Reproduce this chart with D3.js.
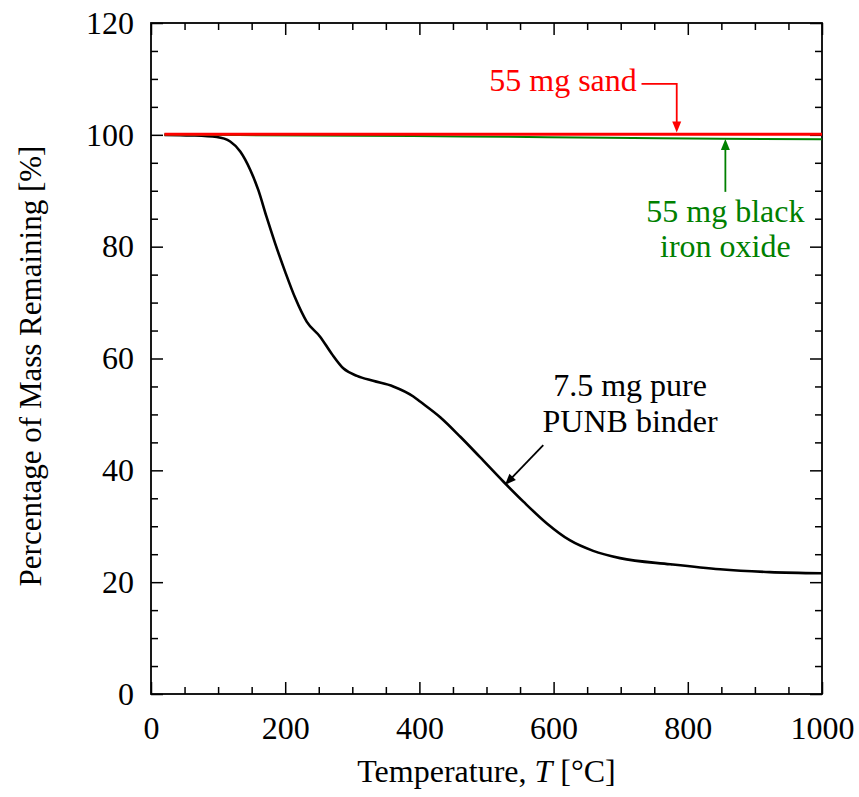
<!DOCTYPE html>
<html>
<head>
<meta charset="utf-8">
<script src="https://cdn.jsdelivr.net/npm/d3@7"></script>
<style>
  html, body { margin: 0; padding: 0; background: #fff; }
  svg { display: block; }
  text { font-family: "Liberation Serif", "Times New Roman", Times, serif; }
</style>
</head>
<body>
<svg id="chart" width="859" height="797"></svg>
<script>
// ---- Data ----
const punbTemp = [20, 60, 98, 118, 133, 148, 160, 172, 185, 200, 215, 232, 252, 269, 287, 307, 331, 361, 391, 401, 431, 461, 490, 525, 555, 590, 624, 659, 699, 774, 848, 922, 1000];
const punbMass = [100, 99.9, 99.6, 98.8, 97.0, 93.7, 90.1, 85.4, 80.6, 75.5, 70.8, 66.6, 63.9, 60.9, 58.2, 56.9, 56.0, 55.0, 53.2, 52.3, 49.5, 46.0, 42.4, 38.0, 34.4, 30.5, 27.5, 25.6, 24.3, 23.2, 22.3, 21.8, 21.6];

const sandTemp = [20, 1000];
const sandMass = [100.1, 100.1];

const ironTemp = [20, 390, 530, 680, 850, 1000];
const ironMass = [100, 99.8, 99.65, 99.5, 99.3, 99.2];

const xTicksMajor = [0, 200, 400, 600, 800, 1000];
const yTicksMajor = [0, 20, 40, 60, 80, 100, 120];

// ---- Layout ----
const margin = { left: 151, top: 23, right: 859 - 822, bottom: 797 - 694 };
const width = 859, height = 797;
const svg = d3.select("#chart");

const x = d3.scaleLinear().domain([0, 1000]).range([margin.left, width - margin.right]);
const y = d3.scaleLinear().domain([0, 120]).range([height - margin.bottom, margin.top]);

const fs = 32;

const g = svg.append("g");

const minorX = d3.range(0, 1001, 50).filter(v => v % 200 !== 0);
const minorY = d3.range(0, 121, 5).filter(v => v % 20 !== 0);
const majLen = 12, minLen = 7;

function addAxis(axisGen, transform) {
  const a = g.append("g").attr("transform", transform).call(axisGen);
  a.select(".domain").remove();
  a.selectAll(".tick line").attr("stroke", "#000").attr("stroke-width", 1.5);
  return a;
}

// Bottom axis (ticks inward)
const bottomMaj = addAxis(d3.axisBottom(x).tickValues(xTicksMajor).tickSize(-majLen).tickPadding(22).tickFormat(d3.format("d")), `translate(0,${y(0)})`);
bottomMaj.selectAll("text").attr("font-size", fs).attr("fill", "#000")
  .attr("font-family", '"Liberation Serif", "Times New Roman", serif');
addAxis(d3.axisBottom(x).tickValues(minorX).tickSize(-minLen).tickFormat(""), `translate(0,${y(0)})`);
// Top axis
addAxis(d3.axisTop(x).tickValues(xTicksMajor).tickSize(-majLen).tickFormat(""), `translate(0,${y(120)})`);
addAxis(d3.axisTop(x).tickValues(minorX).tickSize(-minLen).tickFormat(""), `translate(0,${y(120)})`);
// Left axis
const leftMaj = addAxis(d3.axisLeft(y).tickValues(yTicksMajor).tickSize(-majLen).tickPadding(17).tickFormat(d3.format("d")), `translate(${x(0)},0)`);
leftMaj.selectAll("text").attr("font-size", fs).attr("fill", "#000")
  .attr("font-family", '"Liberation Serif", "Times New Roman", serif');
addAxis(d3.axisLeft(y).tickValues(minorY).tickSize(-minLen).tickFormat(""), `translate(${x(0)},0)`);
// Right axis
addAxis(d3.axisRight(y).tickValues(yTicksMajor).tickSize(-majLen).tickFormat(""), `translate(${x(1000)},0)`);
addAxis(d3.axisRight(y).tickValues(minorY).tickSize(-minLen).tickFormat(""), `translate(${x(1000)},0)`);

// Frame rect
g.append("rect")
  .attr("x", x(0)).attr("y", y(120))
  .attr("width", x(1000) - x(0)).attr("height", y(0) - y(120))
  .attr("fill", "none").attr("stroke", "#000").attr("stroke-width", 1.8);

// ---- Lines ----
svg.append("clipPath").attr("id", "clip").append("rect")
  .attr("x", x(0)).attr("y", y(120)).attr("width", x(1000) - x(0)).attr("height", y(0) - y(120));

const line = d3.line().x(d => x(d[0])).y(d => y(d[1])).curve(d3.curveMonotoneX);
const plot = svg.append("g").attr("clip-path", "url(#clip)");

plot.append("path").datum(d3.zip(punbTemp, punbMass))
  .attr("d", line).attr("fill", "none").attr("stroke", "#000").attr("stroke-width", 2.6);
plot.append("path").datum(d3.zip(ironTemp, ironMass))
  .attr("d", line).attr("fill", "none").attr("stroke", "#008000").attr("stroke-width", 2);
plot.append("path").datum(d3.zip(sandTemp, sandMass))
  .attr("d", line).attr("fill", "none").attr("stroke", "#ff0000").attr("stroke-width", 2.8);

// ---- Annotations ----
function arrowHead(tipX, tipY, dx, dy, color) {
  const L = 11, W = 4.5;
  const bx = tipX - dx * L, by = tipY - dy * L;
  const px = -dy, py = dx;
  svg.append("path")
    .attr("d", `M${tipX},${tipY}L${bx + px * W},${by + py * W}L${bx - px * W},${by - py * W}Z`)
    .attr("fill", color);
}

// Sand
svg.append("text").attr("x", x(724)).attr("y", y(107.8)).attr("text-anchor", "end")
  .attr("font-size", fs).attr("fill", "#ff0000").text("55 mg sand");
svg.append("path")
  .attr("d", `M${x(731)},${y(109.1)}H${x(783.5)}V${y(100.4) - 10}`)
  .attr("fill", "none").attr("stroke", "#ff0000").attr("stroke-width", 1.8);
arrowHead(x(783.5), y(100.4), 0, 1, "#ff0000");

// Iron oxide
svg.append("path")
  .attr("d", `M${x(856)},${y(89.8)}V${y(99.25) + 10}`)
  .attr("fill", "none").attr("stroke", "#008000").attr("stroke-width", 1.8);
arrowHead(x(856), y(99.25), 0, -1, "#008000");
svg.append("text").attr("x", x(856)).attr("y", y(84.5)).attr("text-anchor", "middle")
  .attr("font-size", fs).attr("fill", "#008000")
  .selectAll("tspan").data(["55 mg black", "iron oxide"]).join("tspan")
  .attr("x", x(856)).attr("dy", (d, i) => i === 0 ? 0 : 35).text(d => d);

// PUNB binder
svg.append("text").attr("x", x(714)).attr("y", y(53.3)).attr("text-anchor", "middle")
  .attr("font-size", fs).attr("fill", "#000")
  .selectAll("tspan").data(["7.5 mg pure", "PUNB binder"]).join("tspan")
  .attr("x", x(714)).attr("dy", (d, i) => i === 0 ? 0 : 36).text(d => d);
{
  const x1 = x(584.6), y1 = y(44.5), x2 = x(527.6), y2 = y(37.4);
  const len = Math.hypot(x2 - x1, y2 - y1), ux = (x2 - x1) / len, uy = (y2 - y1) / len;
  svg.append("line").attr("x1", x1).attr("y1", y1).attr("x2", x2 - ux * 9).attr("y2", y2 - uy * 9)
    .attr("stroke", "#000").attr("stroke-width", 1.8);
  arrowHead(x2, y2, ux, uy, "#000");
}

// ---- Axis titles ----
svg.append("text").attr("x", (x(0) + x(1000)) / 2).attr("y", 782).attr("text-anchor", "middle")
  .attr("font-size", fs).attr("fill", "#000")
  .call(t => {
    t.append("tspan").text("Temperature, ");
    t.append("tspan").attr("font-style", "italic").text("T");
    t.append("tspan").text(" [°C]");
  });
svg.append("text")
  .attr("transform", `translate(41,366) rotate(-90)`)
  .attr("text-anchor", "middle").attr("font-size", 31).attr("fill", "#000")
  .text("Percentage of Mass Remaining [%]");
</script>
</body>
</html>
